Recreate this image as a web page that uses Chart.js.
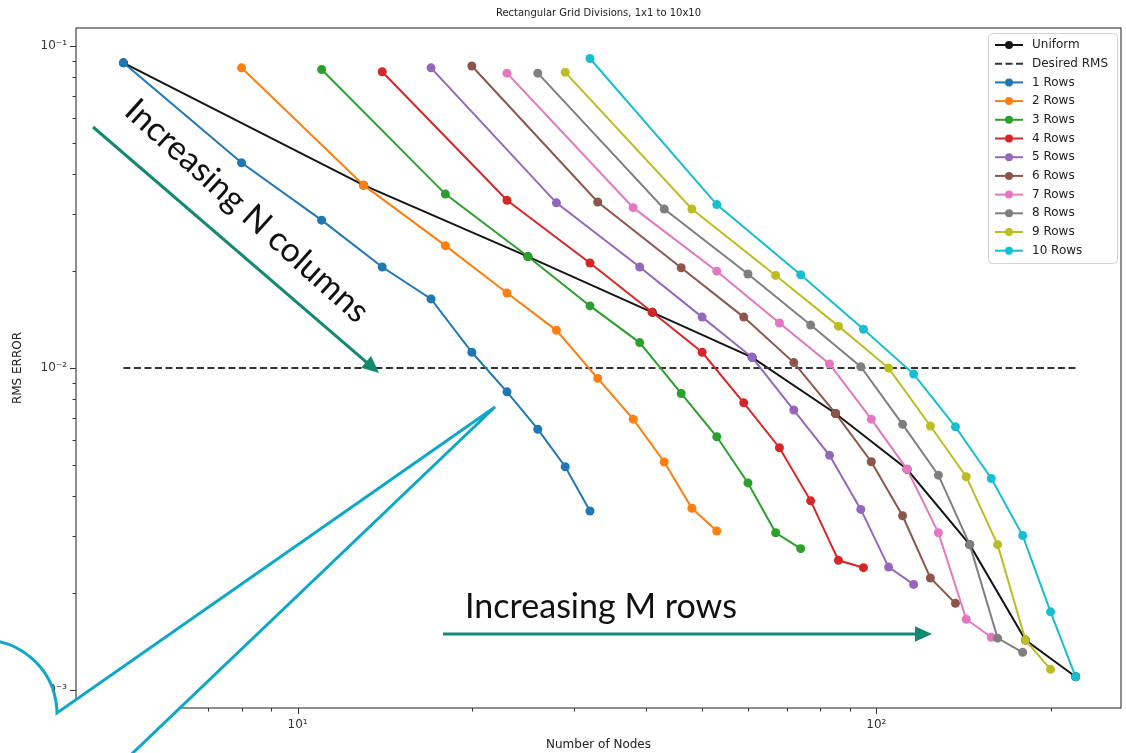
<!DOCTYPE html>
<html>
<head>
<meta charset="utf-8">
<script src="https://cdn.jsdelivr.net/npm/chart.js@4.4.1/dist/chart.umd.min.js"></script>
<style>
  html, body { margin: 0; padding: 0; background: #fff; }
  #wrap { width: 1126px; height: 753px; }
</style>
</head>
<body>
<div id="wrap"><canvas id="myChart" width="1126" height="753"></canvas></div>
<script>
const d = document;
const ctx = d.getElementById('myChart').getContext('2d');

// Number of nodes per series (N = 1..10 columns for each M rows)
const nodes1  = [5, 8, 11, 14, 17, 20, 23, 26, 29, 32];
const nodes2  = [8, 13, 18, 23, 28, 33, 38, 43, 48, 53];
const nodes3  = [11, 18, 25, 32, 39, 46, 53, 60, 67, 74];
const nodes4  = [14, 23, 32, 41, 50, 59, 68, 77, 86, 95];
const nodes5  = [17, 28, 39, 50, 61, 72, 83, 94, 105, 116];
const nodes6  = [20, 33, 46, 59, 72, 85, 98, 111, 124, 137];
const nodes7  = [23, 38, 53, 68, 83, 98, 113, 128, 143, 158];
const nodes8  = [26, 43, 60, 77, 94, 111, 128, 145, 162, 179];
const nodes9  = [29, 48, 67, 86, 105, 124, 143, 162, 181, 200];
const nodes10 = [32, 53, 74, 95, 116, 137, 158, 179, 200, 221];

// RMS error
const rms1  = [0.0887, 0.0434, 0.0288, 0.0206, 0.0164, 0.0112, 0.00844, 0.00646, 0.00494, 0.00360];
const rms2  = [0.0856, 0.0370, 0.0240, 0.0171, 0.0131, 0.00929, 0.00694, 0.00511, 0.00367, 0.00312];
const rms3  = [0.0846, 0.0347, 0.0222, 0.0156, 0.0120, 0.00834, 0.00612, 0.00440, 0.00308, 0.00275];
const rms4  = [0.0832, 0.0332, 0.0212, 0.0149, 0.0112, 0.00780, 0.00566, 0.00387, 0.00253, 0.00240];
const rms5  = [0.0856, 0.0326, 0.0206, 0.0144, 0.0108, 0.00741, 0.00536, 0.00364, 0.00241, 0.00213];
const rms6  = [0.0867, 0.0328, 0.0205, 0.0144, 0.0104, 0.00723, 0.00512, 0.00348, 0.00223, 0.00186];
const rms7  = [0.0824, 0.0315, 0.0200, 0.0138, 0.0103, 0.00694, 0.00485, 0.00308, 0.00166, 0.00146];
const rms8  = [0.0824, 0.0312, 0.0196, 0.0136, 0.0101, 0.00669, 0.00465, 0.00283, 0.00145, 0.00131];
const rms9  = [0.0829, 0.0312, 0.0194, 0.0135, 0.0100, 0.00661, 0.00460, 0.00283, 0.00143, 0.00116];
const rms10 = [0.0915, 0.0322, 0.0195, 0.0132, 0.00958, 0.00657, 0.00454, 0.00302, 0.00175, 0.00110];

const uniformNodes = [5, 13, 25, 41, 61, 85, 113, 145, 181, 221];
const uniformRms   = [0.0887, 0.0370, 0.0222, 0.0149, 0.0108, 0.00723, 0.00485, 0.00283, 0.00143, 0.00110];
const desiredNodes = [5, 221];
const desiredRms   = [0.01, 0.01];

const rowLabels = ['1 Rows', '2 Rows', '3 Rows', '4 Rows', '5 Rows', '6 Rows', '7 Rows', '8 Rows', '9 Rows', '10 Rows'];
const rowColors = ['#1f77b4', '#ff7f0e', '#2ca02c', '#d62728', '#9467bd', '#8c564b', '#e377c2', '#7f7f7f', '#bcbd22', '#17becf'];

const xTickValues = [10, 100];
const xTickLabels = ['10\u00b9', '10\u00b2'];
const xMinorTicks = [5, 6, 7, 8, 9, 20, 30, 40, 50, 60, 70, 80, 90, 200];
const yTickValues = [0.1, 0.01, 0.001];
const yTickLabels = ['10\u207b\u00b9', '10\u207b\u00b2', '10\u207b\u00b3'];
const yMinorTicks = [0.0009, 0.002, 0.003, 0.004, 0.005, 0.006, 0.007, 0.008, 0.009,
                     0.02, 0.03, 0.04, 0.05, 0.06, 0.07, 0.08, 0.09];

const nodesByRow = [nodes1, nodes2, nodes3, nodes4, nodes5, nodes6, nodes7, nodes8, nodes9, nodes10];
const rmsByRow = [rms1, rms2, rms3, rms4, rms5, rms6, rms7, rms8, rms9, rms10];

const FONT = '"DejaVu Sans", sans-serif';
const toPoints = (xs, ys) => xs.map((x, i) => ({ x: x, y: ys[i] }));

const uniformDs = {
    label: 'Uniform', data: toPoints(uniformNodes, uniformRms),
    borderColor: '#151515', backgroundColor: '#151515', borderWidth: 2,
    pointRadius: 4.5, pointBorderWidth: 0, order: 30
};
const desiredDs = {
    label: 'Desired RMS', data: toPoints(desiredNodes, desiredRms),
    borderColor: '#333', backgroundColor: '#333', borderWidth: 2, borderDash: [7, 3.5],
    pointRadius: 0, order: 25
};
const rowDs = rowLabels.map((label, i) => ({
    label, data: toPoints(nodesByRow[i], rmsByRow[i]),
    borderColor: rowColors[i], backgroundColor: rowColors[i], borderWidth: 2,
    pointRadius: 4.5, pointBorderWidth: 0, order: 10 - i
}));

function drawArrow(c, x1, y1, x2, y2, color, w, head) {
    const ang = Math.atan2(y2 - y1, x2 - x1);
    const cs = Math.cos(ang), sn = Math.sin(ang);
    c.strokeStyle = color; c.lineWidth = w; c.lineCap = 'butt';
    c.beginPath(); c.moveTo(x1, y1); c.lineTo(x2 - cs * head * 0.8, y2 - sn * head * 0.8); c.stroke();
    c.fillStyle = color;
    c.beginPath();
    c.moveTo(x2, y2);
    c.lineTo(x2 - head * cs + head * 0.45 * sn, y2 - head * sn - head * 0.45 * cs);
    c.lineTo(x2 - head * cs - head * 0.45 * sn, y2 - head * sn + head * 0.45 * cs);
    c.closePath(); c.fill();
}

// font size so that text spans the wanted width
function fitFont(c, text, width, family) {
    c.font = '100px ' + family;
    return 100 * width / c.measureText(text).width;
}

const decor = {
    id: 'decor',
    afterDraw(chart) {
        const c = chart.ctx;
        const a = chart.chartArea;
        const sx = chart.scales.x, sy = chart.scales.y;
        c.save();

        // title
        c.fillStyle = '#222';
        c.font = '10px ' + FONT;
        c.textAlign = 'center'; c.textBaseline = 'middle';
        c.fillText('Rectangular Grid Divisions, 1x1 to 10x10', (a.left + a.right) / 2, 13);

        // tick marks
        c.strokeStyle = '#333'; c.lineWidth = 1;
        c.beginPath();
        xTickValues.forEach(v => { const p = Math.round(sx.getPixelForValue(v)) + 0.5; c.moveTo(p, a.bottom); c.lineTo(p, a.bottom + 6); });
        xMinorTicks.forEach(v => { const p = Math.round(sx.getPixelForValue(v)) + 0.5; c.moveTo(p, a.bottom); c.lineTo(p, a.bottom + 3.5); });
        yTickValues.forEach(v => { const p = Math.round(sy.getPixelForValue(v)) + 0.5; c.moveTo(a.left, p); c.lineTo(a.left - 6, p); });
        yMinorTicks.forEach(v => { const p = Math.round(sy.getPixelForValue(v)) + 0.5; c.moveTo(a.left, p); c.lineTo(a.left - 3.5, p); });
        c.stroke();

        // frame
        c.strokeStyle = '#444'; c.lineWidth = 1.2;
        c.strokeRect(a.left, a.top, a.right - a.left, a.bottom - a.top);

        // legend
        const items = [uniformDs, desiredDs].concat(rowDs);
        const lx = 988, ly = 33, lw = 129, lh = 230;
        c.fillStyle = 'rgba(255,255,255,0.85)';
        c.strokeStyle = '#d3d3d3'; c.lineWidth = 1;
        c.beginPath(); c.roundRect(lx + 0.5, ly + 0.5, lw, lh, 4); c.fill(); c.stroke();
        c.font = '12px ' + FONT; c.textAlign = 'left'; c.textBaseline = 'middle';
        items.forEach((ds, i) => {
            const y = ly + 12 + i * 18.7;
            c.strokeStyle = ds.borderColor; c.lineWidth = 2;
            c.setLineDash(ds.borderDash || []);
            c.beginPath(); c.moveTo(lx + 7, y); c.lineTo(lx + 35, y); c.stroke();
            c.setLineDash([]);
            if (ds.pointRadius > 0) {
                c.fillStyle = ds.backgroundColor;
                c.beginPath(); c.arc(lx + 21, y, 4, 0, Math.PI * 2); c.fill();
            }
            c.fillStyle = '#222';
            c.fillText(ds.label, lx + 44, y);
        });

        // annotations pasted over the figure
        const teal = '#14896f';
        drawArrow(c, 93, 127, 379, 373, teal, 3, 17);
        drawArrow(c, 443, 634, 932, 634, teal, 3, 17);

        c.fillStyle = '#111';
        const fam = 'Lato, "Open Sans", sans-serif';
        let fs = fitFont(c, 'Increasing N columns', 315, fam);
        c.font = fs + 'px ' + fam;
        c.save();
        c.translate(247, 211);
        c.rotate(42 * Math.PI / 180);
        c.textAlign = 'center'; c.textBaseline = 'middle';
        c.fillText('Increasing N columns', 0, 0);
        c.restore();

        fs = fitFont(c, 'Increasing M rows', 272, fam);
        c.font = fs + 'px ' + fam;
        c.textAlign = 'left'; c.textBaseline = 'alphabetic';
        c.fillText('Increasing M rows', 465, 618);

        // callout bubble (white body covering the corner)
        const cx = -17, cy = 714, r = 74;
        const a0 = Math.atan2(640 - cy, 0 - cx), a1 = Math.atan2(713 - cy, 57 - cx);
        c.fillStyle = '#fff';
        c.beginPath();
        c.arc(cx, cy, r, a0, a1);
        c.lineTo(495, 407);
        c.lineTo(133, 753);
        c.lineTo(-20, 760);
        c.closePath();
        c.fill();
        c.strokeStyle = '#0fa7c6'; c.lineWidth = 3; c.lineJoin = 'miter';
        c.beginPath();
        c.arc(cx, cy, r, a0 - 0.3, a1);
        c.lineTo(495, 407);
        c.lineTo(115, 770);
        c.stroke();

        c.restore();
    }
};

const myChart = new Chart(ctx, {
    type: 'line',
    data: { datasets: rowDs.concat([desiredDs, uniformDs]) },
    options: {
        responsive: false,
        animation: false,
        devicePixelRatio: 1,
        layout: { padding: { top: 28, right: 5, left: 0, bottom: 0 } },
        plugins: { legend: { display: false }, tooltip: { enabled: false }, title: { display: false } },
        elements: { line: { tension: 0 } },
        scales: {
            x: {
                type: 'logarithmic', min: 4.14, max: 264.7, bounds: 'data',
                afterBuildTicks: s => { s.ticks = xTickValues.map(v => ({ value: v })); },
                afterFit: s => { s.height = 45; },
                ticks: {
                    autoSkip: false, maxRotation: 0, padding: 4, color: '#333',
                    font: { family: FONT, size: 12 },
                    callback: (v, i) => xTickLabels[i]
                },
                grid: { drawOnChartArea: false, drawTicks: true, tickLength: 6, tickColor: 'rgba(0,0,0,0)' },
                border: { display: false },
                title: { display: true, text: 'Number of Nodes', color: '#222', font: { family: FONT, size: 12 }, padding: { top: 0, bottom: 1 } }
            },
            y: {
                type: 'logarithmic', min: 0.00088, max: 0.1138, bounds: 'data',
                afterBuildTicks: s => { s.ticks = yTickValues.map(v => ({ value: v })); },
                afterFit: s => { s.width = 76; },
                ticks: {
                    autoSkip: false, padding: 3, color: '#333',
                    font: { family: FONT, size: 12 },
                    callback: (v, i) => yTickLabels[i]
                },
                grid: { drawOnChartArea: false, drawTicks: true, tickLength: 6, tickColor: 'rgba(0,0,0,0)' },
                border: { display: false },
                title: { display: true, text: 'RMS ERROR', color: '#222', font: { family: FONT, size: 12 }, padding: { top: 11, bottom: 0 } }
            }
        }
    },
    plugins: [decor]
});
</script>
</body>
</html>
